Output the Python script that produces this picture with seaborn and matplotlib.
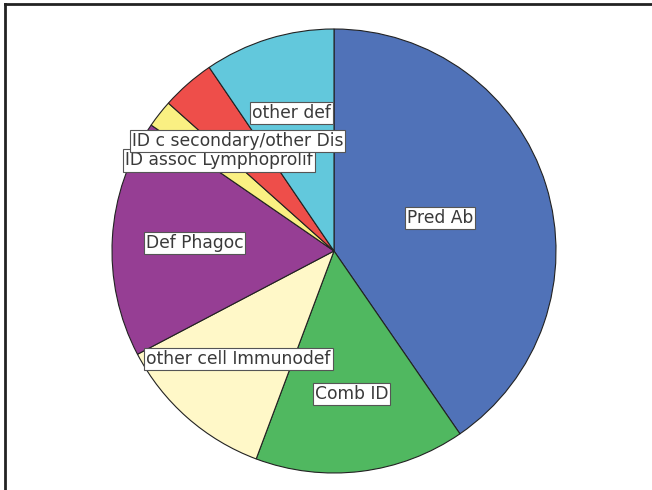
import numpy as np
import matplotlib
matplotlib.use("Agg")
import matplotlib.pyplot as plt
import seaborn as sns

# Share of diagnoses per immunodeficiency group (percent)
categories = [
    "Pred Ab",
    "Comb ID",
    "other cell Immunodef",
    "Def Phagoc",
    "ID assoc Lymphoprolif",
    "ID c secondary/other Dis",
    "other def",
]
shares = [40.4, 15.3, 11.6, 17.3, 2.0, 3.9, 9.5]
slice_colors = ["#5072B8", "#50B860", "#FFF8C8", "#963E94", "#FAF082", "#EE4E4A", "#62C8DC"]

sns.set_theme(style="white")
plt.rcParams["font.family"] = ["DejaVu Sans"]

W, H = 652, 490
fig = plt.figure(figsize=(W / 100, H / 100), dpi=100, linewidth=0)
fig.patch.set_facecolor("white")

# Background panel carrying the top and left border
frame = fig.add_axes([5 / W, -0.05, 1.0, 1.05 - 4.5 / H])
frame.set_xticks([])
frame.set_yticks([])
for side in ("right", "bottom"):
    frame.spines[side].set_visible(False)
for side in ("top", "left"):
    frame.spines[side].set_color("#222222")
    frame.spines[side].set_linewidth(2.0)
frame.set_facecolor("white")

# Place the pie: centre and radius in pixels
cx, cy, r = 334, 251, 222
lim = 1.05
size = 2 * r * lim
ax = fig.add_axes([(cx - size / 2) / W, (H - cy - size / 2) / H, size / W, size / H])

palette = sns.color_palette(slice_colors)
wedges, _ = ax.pie(
    shares,
    colors=palette,
    startangle=90,
    counterclock=False,
    wedgeprops=dict(edgecolor="#222222", linewidth=0.8),
)
ax.set_xlim(-lim, lim)
ax.set_ylim(-lim, lim)
ax.set_aspect("equal")
ax.axis("off")

# Boxed labels inside each slice
label_dist = [0.50, 0.65, 0.65, 0.63, 0.66, 0.66, 0.65]
for w, name, d in zip(wedges, categories, label_dist):
    theta = np.deg2rad((w.theta1 + w.theta2) / 2)
    ax.text(
        d * np.cos(theta), d * np.sin(theta), name,
        ha="center", va="center", fontsize=12.3, color="#3a3a3a",
        bbox=dict(boxstyle="square,pad=0.12", facecolor="white",
                  edgecolor="#555555", linewidth=0.8),
        zorder=5,
    )

fig.savefig("out.png", dpi=100)
